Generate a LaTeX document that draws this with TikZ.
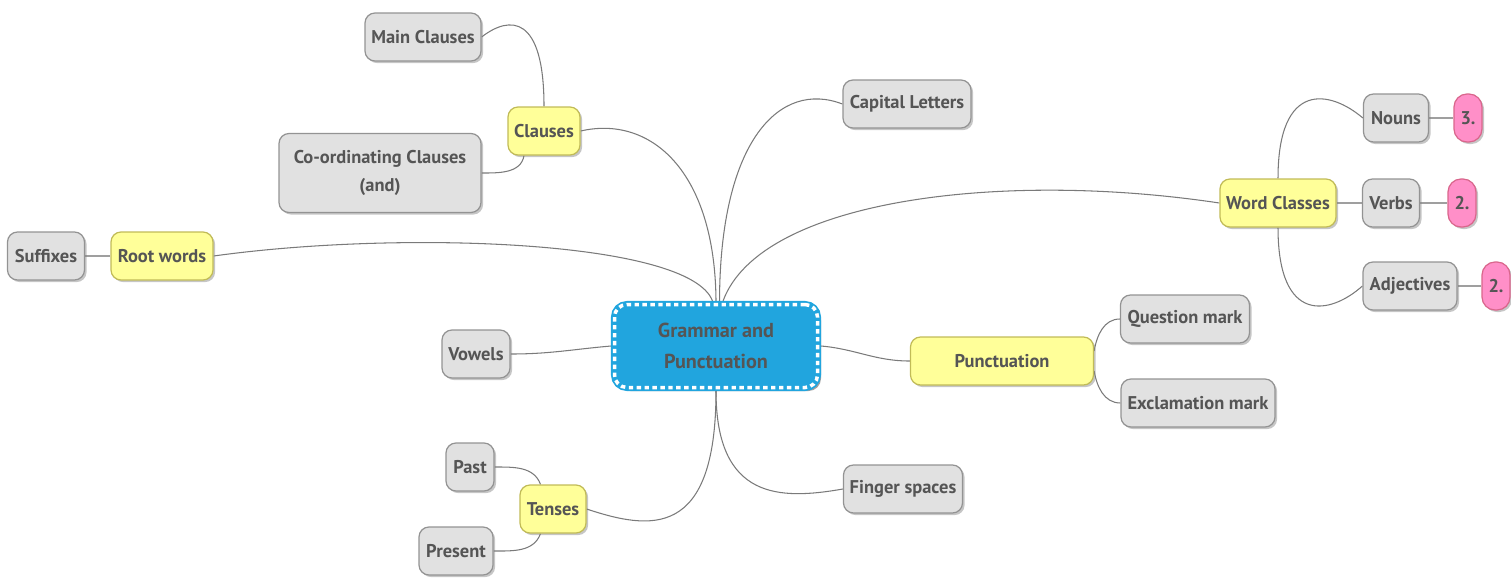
\documentclass[tikz,border=0pt]{standalone}
\usepackage{fontspec}
\setmainfont{PT Sans}
\usetikzlibrary{shadows,backgrounds}
\definecolor{boxgray}{HTML}{E1E1E1}
\definecolor{boxyellow}{HTML}{FFFF99}
\definecolor{boxpink}{HTML}{FF8FC8}
\definecolor{boxblue}{HTML}{21A5DE}
\definecolor{txtgray}{HTML}{555555}
\definecolor{linegray}{HTML}{7A7A7A}
\begin{document}
\begin{tikzpicture}[
    topic/.style={rounded corners=0.2cm, inner sep=0pt, minimum height=0.96cm,
        font=\fontsize{10.5}{13}\selectfont\bfseries, text=txtgray, align=center,
        line width=0.7pt, drop shadow={opacity=0.45, shadow xshift=1.2pt, shadow yshift=-1.2pt}},
    leaf/.style={topic, fill=boxgray, draw=gray!85},
    branch/.style={topic, fill=boxyellow, draw=olive!55},
    score/.style={topic, fill=boxpink, draw=purple!60, minimum width=0.56cm, rounded corners=0.26cm},
    link/.style={draw=linegray, line width=0.6pt},
    stem/.style={draw=gray!75, line width=1.4pt}]
\useasboundingbox (0,0) rectangle (30.22,-11.68);

\node[topic, fill=boxblue, draw=boxblue, line width=4pt, minimum width=4.06cm, minimum height=1.66cm,
    rounded corners=0.25cm, font=\fontsize{11.5}{17.5}\selectfont\bfseries,
    drop shadow={opacity=0.75, shadow xshift=2pt, shadow yshift=-2pt},
    postaction={draw=white, line width=2pt, dash pattern=on 2.5pt off 2pt, rounded corners=0.25cm}]
    (main) at (14.32,-6.92) {Grammar and\\Punctuation};

\node[branch, minimum width=1.44cm] (clauses) at (10.88,-2.62) {Clauses};
\node[leaf, minimum width=2.32cm] (mainc) at (8.46,-0.74) {Main Clauses};
\node[leaf, minimum width=4.04cm, minimum height=1.58cm, font=\fontsize{10.5}{16}\selectfont\bfseries]
    (coord) at (7.60,-3.46) {Co-ordinating Clauses\\(and)};
\node[leaf, minimum width=2.56cm] (capital) at (18.14,-2.08) {Capital Letters};
\node[branch, minimum width=2.04cm] (root) at (3.24,-5.12) {Root words};
\node[leaf, minimum width=1.54cm] (suffix) at (0.92,-5.12) {Suffixes};
\node[branch, minimum width=2.32cm] (words) at (25.56,-4.06) {Word Classes};
\node[leaf, minimum width=1.30cm] (nouns) at (27.92,-2.36) {Nouns};
\node[score] (three) at (29.36,-2.36) {3.};
\node[leaf, minimum width=1.14cm] (verbs) at (27.82,-4.06) {Verbs};
\node[score] (twoa) at (29.24,-4.06) {2.};
\node[leaf, minimum width=1.88cm] (adj) at (28.20,-5.72) {Adjectives};
\node[score] (twob) at (29.92,-5.72) {2.};
\node[leaf, minimum width=1.36cm] (vowels) at (9.52,-7.08) {Vowels};
\node[branch, minimum width=3.66cm] (punct) at (20.04,-7.22) {Punctuation};
\node[leaf, minimum width=2.58cm] (question) at (23.70,-6.38) {Question mark};
\node[leaf, minimum width=3.08cm] (exclam) at (23.96,-8.06) {Exclamation mark};
\node[branch, minimum width=1.32cm] (tenses) at (11.06,-10.18) {Tenses};
\node[leaf, minimum width=0.96cm] (past) at (9.40,-9.34) {Past};
\node[leaf, minimum width=1.48cm] (present) at (9.12,-11.02) {Present};
\node[leaf, minimum width=2.38cm] (finger) at (18.06,-9.78) {Finger spaces};

% branches out of the centre, behind the boxes
\begin{scope}[on background layer]
\path[link] (main.north) .. controls (14.30,-3.40) and (13.00,-2.30) .. (clauses.east);
\path[link] ([xshift=2pt]main.north) .. controls (14.40,-2.80) and (15.60,-1.60) .. (capital.west);
\path[link] ([xshift=-2pt]main.north) .. controls (13.80,-4.80) and (8.00,-4.60) .. (root.east);
\path[link] ([xshift=4pt]main.north) .. controls (15.20,-4.00) and (20.00,-3.40) .. (words.west);
\path[link] (main.south) .. controls (14.32,-10.80) and (13.00,-10.60) .. (tenses.east);
\path[link] (main.south) .. controls (14.32,-10.00) and (15.60,-10.00) .. (finger.west);
\path[link] (vowels.east) to[out=0,in=185] (main.west);
\path[link] (main.east) to[out=-5,in=180] (punct.west);

\path[link] (clauses.north) .. controls (10.88,-0.30) and (10.20,-0.30) .. (mainc.east);
\path[link] ([xshift=-0.4cm]clauses.south) to[out=-100,in=0] (coord.east);
\path[link] (words.north) .. controls (25.56,-1.60) and (26.60,-1.80) .. (nouns.west);
\path[link] (words.south) .. controls (25.56,-6.50) and (26.60,-6.30) .. (adj.west);
\path[link] ([yshift=0.2cm]punct.east) to[out=80,in=180] (question.west);
\path[link] ([yshift=-0.2cm]punct.east) to[out=-80,in=180] (exclam.west);
\path[link] ([xshift=-0.25cm]tenses.north) to[out=110,in=0] (past.east);
\path[link] ([xshift=-0.25cm]tenses.south) to[out=-110,in=0] (present.east);

\path[stem] (suffix) -- (root);
\path[stem] (words) -- (verbs);
\path[stem] (nouns) -- (three);
\path[stem] (verbs) -- (twoa);
\path[stem] (adj) -- (twob);
\end{scope}
\end{tikzpicture}
\end{document}
